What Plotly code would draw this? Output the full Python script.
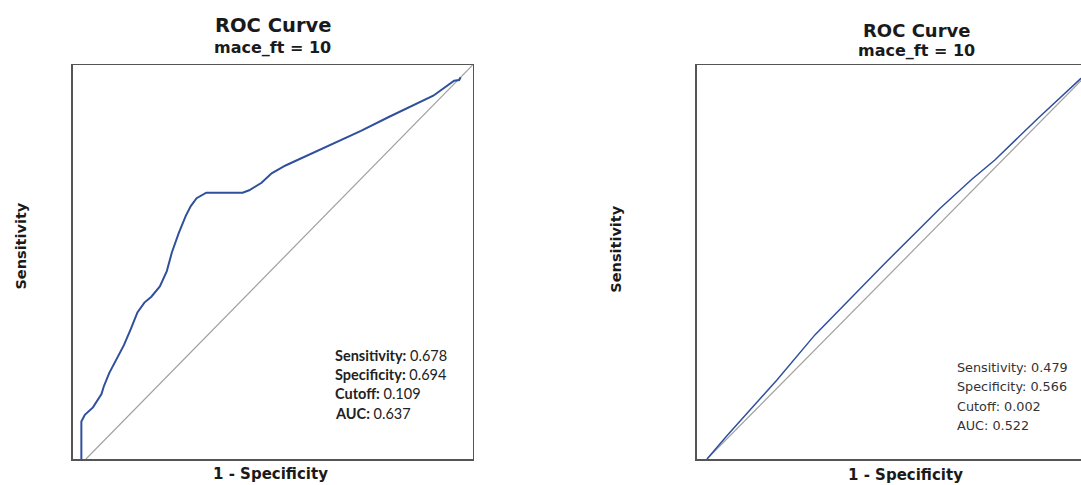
import plotly.graph_objects as go

# ---------------- data ----------------
# Left panel ROC curve (1 - specificity, sensitivity)
left_fpr = [-0.012, -0.012, -0.003, 0.018, 0.040, 0.046, 0.060, 0.080, 0.098, 0.116,
            0.133, 0.151, 0.169, 0.191, 0.209, 0.222, 0.240, 0.258, 0.271, 0.286,
            0.311, 0.405, 0.422, 0.454, 0.480, 0.516, 0.578, 0.640, 0.711, 0.783,
            0.845, 0.898, 0.952, 0.965, 0.969]
left_tpr = [0.000, 0.095, 0.112, 0.131, 0.165, 0.184, 0.218, 0.254, 0.289, 0.330,
            0.372, 0.397, 0.412, 0.438, 0.477, 0.524, 0.574, 0.617, 0.642, 0.662,
            0.676, 0.676, 0.682, 0.701, 0.725, 0.745, 0.773, 0.801, 0.833, 0.868,
            0.898, 0.922, 0.960, 0.962, 0.969]

# Right panel ROC curve
right_fpr = [0.000, 0.050, 0.100, 0.179, 0.277, 0.350, 0.450, 0.598, 0.680, 0.739, 0.850, 0.958, 1.000]
right_tpr = [0.000, 0.058, 0.113, 0.200, 0.315, 0.390, 0.490, 0.636, 0.710, 0.759, 0.865, 0.964, 1.000]

diag = [0, 1]

left_stats_labels = ["Sensitivity:", "Specificity:", "Cutoff:", "AUC:"]
left_stats_values = ["0.678", "0.694", "0.109", "0.637"]
right_stats_labels = ["Sensitivity:", "Specificity:", "Cutoff:", "AUC:"]
right_stats_values = ["0.479", "0.566", "0.002", "0.522"]

title_text = "ROC Curve"
subtitle_text = "mace_ft = 10"
xlab = "1 - Specificity"
ylab = "Sensitivity"

# ---------------- figure ----------------
W, H = 1081, 485
def px(x):
    return x / W
def py(y):
    return 1 - y / H

BLUE = "#30509c"
GREY = "#a0a0a0"
BOX = "#555555"
TXT = "#1a1a1a"

fig = go.Figure()
fig.add_trace(go.Scatter(x=diag, y=diag, mode="lines", line=dict(color=GREY, width=1.2),
                         xaxis="x", yaxis="y", showlegend=False, hoverinfo="skip"))
fig.add_trace(go.Scatter(x=left_fpr, y=left_tpr, mode="lines", line=dict(color=BLUE, width=2),
                         xaxis="x", yaxis="y", showlegend=False))
fig.add_trace(go.Scatter(x=diag, y=diag, mode="lines", line=dict(color=GREY, width=1.2),
                         xaxis="x2", yaxis="y2", showlegend=False, hoverinfo="skip"))
fig.add_trace(go.Scatter(x=right_fpr, y=right_tpr, mode="lines", line=dict(color=BLUE, width=1.5),
                         xaxis="x2", yaxis="y2", showlegend=False))

ax_common = dict(showgrid=False, zeroline=False, showticklabels=False, ticks="",
                 showline=True, linecolor=BOX, linewidth=1.5, fixedrange=True)

fig.update_layout(
    width=W, height=H, autosize=False,
    margin=dict(l=0, r=0, t=0, b=0),
    paper_bgcolor="white", plot_bgcolor="white",
    xaxis=dict(domain=[px(72.7), px(472.7)], range=[-0.0344, 1.0], mirror=True, anchor="y", **ax_common),
    yaxis=dict(domain=[py(459), py(65)], range=[0, 1], mirror=True, anchor="x", **ax_common),
    xaxis2=dict(domain=[px(696.5), 1.0], range=[-0.027, 0.9602], mirror=True, anchor="y2", **ax_common),
    yaxis2=dict(domain=[py(459), py(65)], range=[0, 1], mirror=False, anchor="x2", **ax_common),
)

ann = []
def text(x, y, s, size, bold=True, family="DejaVu Sans", angle=0, xanchor="center", color=TXT):
    ann.append(dict(x=px(x), y=py(y), xref="paper", yref="paper", showarrow=False,
                    text=("<b>%s</b>" % s) if bold else s, textangle=angle,
                    xanchor=xanchor, yanchor="middle",
                    font=dict(family=family, size=size, color=color)))

# left panel text
text(272.5, 25, title_text, 19.5)
text(272.5, 47.7, subtitle_text, 16)
text(270.7, 473.5, xlab, 15)
text(20.6, 246, ylab, 14.5, angle=-90)
for i, (lab, val) in enumerate(zip(left_stats_labels, left_stats_values)):
    ann.append(dict(x=px(333.3), y=py(355 + i * 19.4), xref="paper", yref="paper", showarrow=False,
                    text="<b>%s</b> %s" % (lab, val), xanchor="left", yanchor="middle",
                    font=dict(family="Lato", size=14.5, color="#222222")))

# right panel text
text(916.5, 30, title_text, 18)
text(916.5, 50.7, subtitle_text, 16)
text(905, 474.5, xlab, 15)
text(615.7, 249, ylab, 14.5, angle=-90)
for i, (lab, val) in enumerate(zip(right_stats_labels, right_stats_values)):
    ann.append(dict(x=px(955), y=py(367 + i * 19.6), xref="paper", yref="paper", showarrow=False,
                    text="%s %s" % (lab, val), xanchor="left", yanchor="middle",
                    font=dict(family="DejaVu Sans", size=12.8, color="#333333")))

fig.update_layout(annotations=ann)
fig.write_html("out.html",
               config={"displayModeBar": False, "staticPlot": True},
               post_script="document.body.style.margin='0';document.body.style.overflow='hidden';")
